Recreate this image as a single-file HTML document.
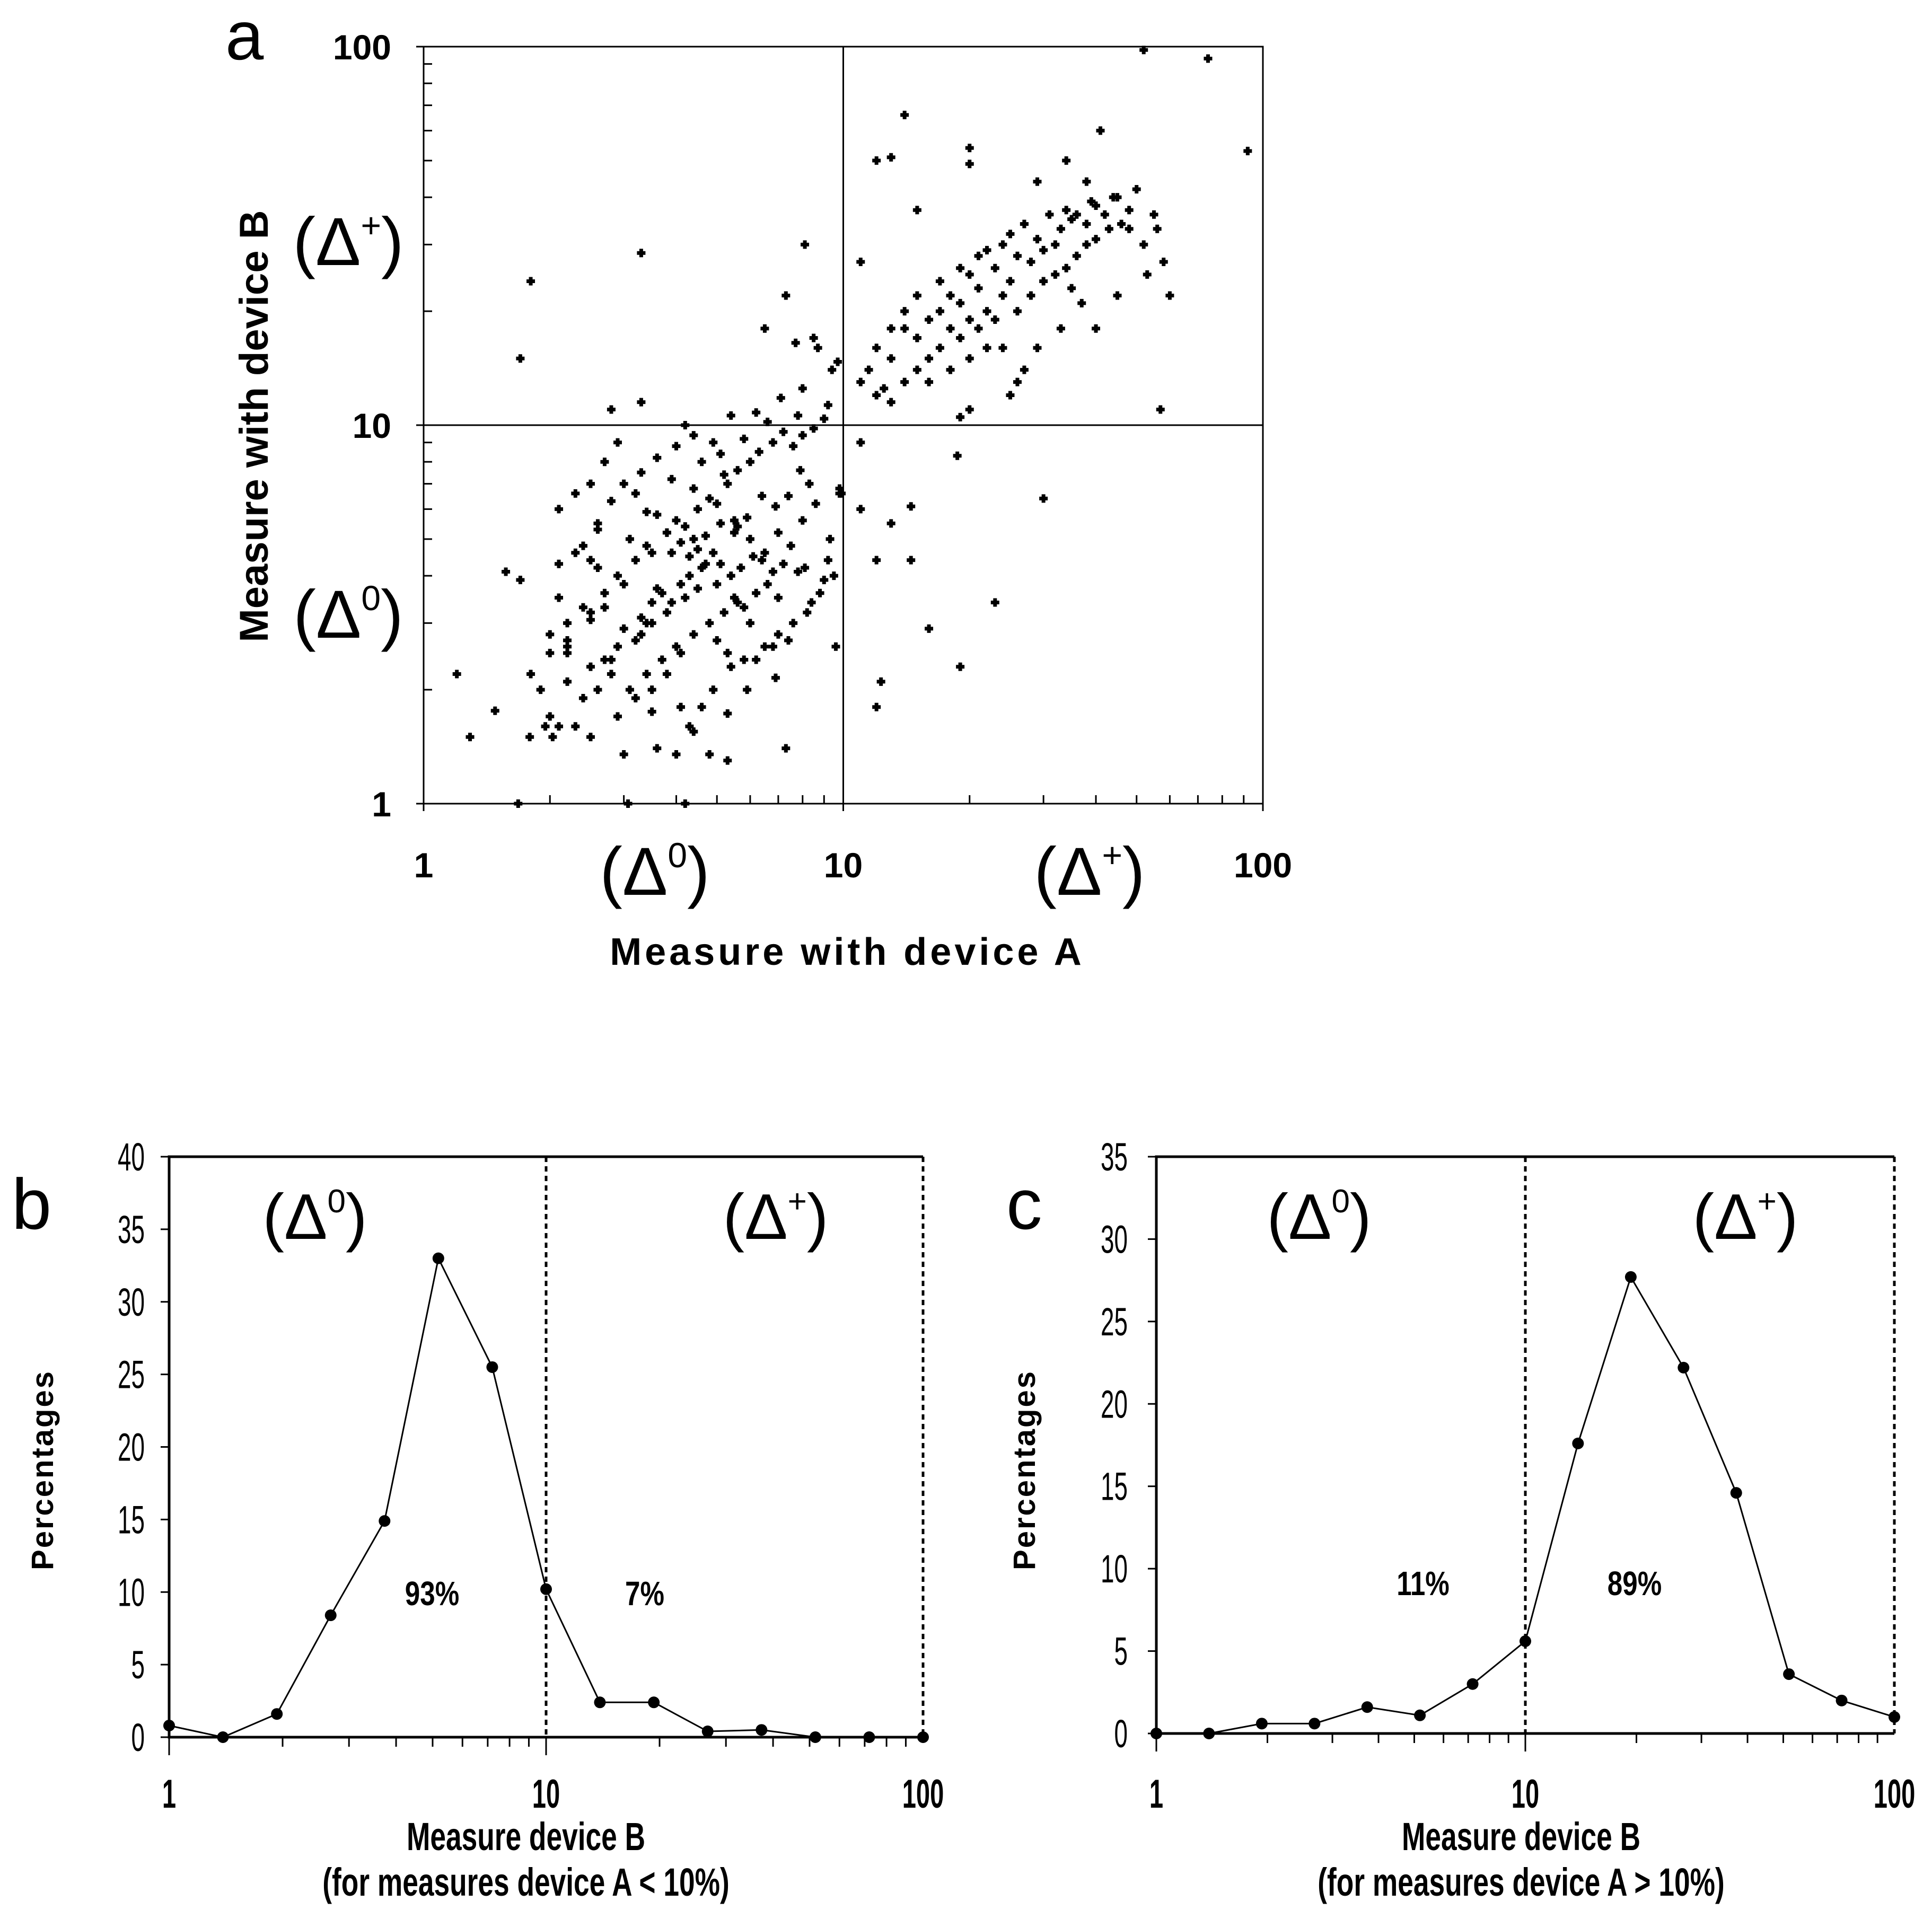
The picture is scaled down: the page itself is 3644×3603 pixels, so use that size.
<!DOCTYPE html>
<html><head><meta charset="utf-8"><style>
html,body{margin:0;padding:0;background:#fff}
svg{display:block}
text{font-family:"Liberation Sans",sans-serif;fill:#000}
</style></head><body>
<svg id="fig" width="3644" height="3603" viewBox="0 0 3644 3603" xmlns="http://www.w3.org/2000/svg">
<rect width="3644" height="3603" fill="#fff"/>
<g id="pa"></g>
<g id="pb"></g>
<g id="pc"></g>
</svg>
<script>
// Panel a scatter data: device A and device B values
const scatterA = [52,74,92,41,14,12,13,20,20,34,38,29,15,8.1,3.3,1.8,1.7,11,
13,12,14,15,13,16,17,15,14,16,18,17,19,20,18,21,22,24,20,23,25,26,24,28,30,27,29,32,35,33,36,38,40,42,45,48,50,44,39,34,31,27,25,22,21,19,17,15,14,13,12,11.5,11,12.5,16,18,20,22,24,19,21,23,26,28,30,32,34,36,38,40,43,46,52,55,56,58,53,45,37,33,29,27,25,20,19,15,35,40,48,60,57,26,30,
11,14.5,12,14.5,23,16,19,12,12.3,9.8,11,18.7,13,
1.2,1.29,1.48,1.79,2.03,2.5,1.57,1.68,3.07,4.2,5.3,5.9,6.9,8.1,2.2,
2,2.2,2.4,2.1,2.5,2.7,2.9,2.6,3,3.2,3.4,3.1,3.5,3.8,4,3.6,4.2,4.5,4.8,4.4,5,5.3,5.6,5.2,6,6.3,6.8,7.2,7.6,8,8.5,9,6.6,5.4,4.2,3.3,2.8,2.9,2.7,2.5,2.3,2.1,2.6,2.8,3,3.3,3.6,4,4.4,4.9,5.5,6,6.5,7,7.5,8,8.6,9.2,9.5,8.8,8.2,7.6,7,6.5,6,5.6,5.2,4.8,4.4,4,3.7,3.4,3.1,2.8,2.6,2.4,2.2,2,2.3,2.5,2.9,3.2,3.5,3.8,4.1,4.3,4.6,4.9,5.4,5.8,6.2,6.8,7.3,4,4.4,3.6,4.8,5.3,3,2.8,2,1.8,1.9,1.7,2.1,2.3,2.5,2.7,3.3,3.5,3.7,3.9,4.1,4.3,4.6,4.9,5.1,5.4,5.7,6.1,6.4,6.8,7.2,7.8,3.9,4.1,4.3,4.5,4.7,3.6,3.4,3.2,3,2.9,3.3,3.5,3.8,4.2,4.5,5,5.5,5.8,6.2,6.6,7,7.4,8.4,9,9.6,9.3,9.8,9.9,8.3,7.9,7.4,6.9,6.4,5.9,5.5,5.1,4.7,4.4,2.6,2.4,2.2,2.7,2.5,2.2,1.95,2.1,3.5,4.1,5,5.3,5.6,3.4,3.8,3.2,3.9,4.6,5.1,5.8,6.2,7.1,8,9.4,9.7,8.7,8.5,7.7,7.3,6.5,7.8,9.2,9.6];
const scatterB = [98,93,53,60,66,50,51,54,49,50,44,44,37,30,28.5,24,15,27,
11.5,12,13,14,15,15,16,17,18,19,18,20,21,19,22,23,20,22,25,26,24,28,30,27,29,34,31,30,35,33,36,34,38,36,40,37,42,40,39,37,36,34,32,29,28,26,24,22,20,18,16,14,13,12.5,13,14,15,16,16,17,18,19,20,22,24,25,26,28,30,31,33,34,30,36,33,27,25,22,21,18,16,14,12,11,10.5,17,23,18,33,22,11,13,
6.4,6,4.4,4.4,6.1,3.4,2.9,2.3,1.8,2.1,6.6,9,8.3,
5.5,2.2,1.5,1.76,1.5,1.5,3.06,4.1,1,1,1,1.73,2,2.15,4.2,
2.5,2.8,3,3.3,3.5,3.2,3.6,4,4.2,3.8,4.4,4.8,5,4.6,5.2,5.6,5.8,5.4,6,6.4,6.8,6.2,7,7.6,7.4,8,8.5,9,9.6,8.8,9.4,9.8,10.4,10.2,10.6,10,11.5,11,9,8,7,6.6,6,5.5,6.3,7,7.5,8.2,8.8,9.4,9,5.6,5,4.6,5.2,4.8,5.6,6.2,4.4,4,3.6,3.2,3,2.8,2.6,3,3.4,3.2,3,2.8,2.6,2.4,2.2,2,2.2,2,1.9,2.1,1.7,1.6,1.5,1.7,1.9,2,2.2,1.8,1.6,1.8,2,2.3,2.4,2.4,2.6,1.4,1.35,1.55,1.4,1.35,1.3,1.35,2.4,2.5,2.2,2,3.9,4.3,4.6,4.4,3.3,3.1,3.4,3.6,3.4,3.8,4,4.2,4.6,4.3,4,4.2,4.5,4.4,4.1,4.3,4.1,4.6,4.9,4.5,4.7,4.3,3.7,3,2.7,2.9,2.6,2.8,3,3.2,3.5,3.7,3.8,3.5,3.3,3.6,3.8,3.5,2.7,3.4,3.9,2.6,5,6.8,6.6,7,7.6,6.5,6.1,6.5,5.7,5.2,5.5,5.1,5,5.3,4.8,2.6,2.4,2.3,2.7,1.6,1.6,1.75,2.5,2.7,2.5,5.4,5.9,5.2,6.6,7.2,8,8.4,9.2,10.8,11.8,12.5,14,14.7,16,17,16.5,22,18,10.6,11.3];
// Panel b
const binsB = [1,1.389,1.931,2.683,3.728,5.179,7.197,10,13.89,19.31,26.83,37.28,51.79,71.97,100];
const pctB = [0.8,0,1.6,8.4,14.9,33,25.5,10.2,2.4,2.4,0.4,0.5,0,0,0];
const yTicksB = [0,5,10,15,20,25,30,35,40];
// Panel c
const binsC = [1,1.389,1.931,2.683,3.728,5.179,7.197,10,13.89,19.31,26.83,37.28,51.79,71.97,100];
const pctC = [0,0,0.6,0.6,1.6,1.1,3,5.6,17.6,27.7,22.2,14.6,3.6,2,1];
const yTicksC = [0,5,10,15,20,25,30,35];
const xTickLabels = ["1","10","100"];
const xTickVals = [1,10,100];

const NS="http://www.w3.org/2000/svg";
function mk(parent,tag,attrs,txt){const e=document.createElementNS(NS,tag);for(const k in attrs)e.setAttribute(k,attrs[k]);if(txt!==undefined)e.textContent=txt;parent.appendChild(e);return e;}
function logScale(v0,v1,p0,p1){return v=>p0+(Math.log10(v)-Math.log10(v0))/(Math.log10(v1)-Math.log10(v0))*(p1-p0);}
function linScale(v0,v1,p0,p1){return v=>p0+(v-v0)/(v1-v0)*(p1-p0);}

// ===== Panel a =====
(function(){
const g=document.getElementById('pa');
const X0=799,X1=2382,Y0=88,Y1=1516;
const sx=logScale(1,100,X0,X1), sy=logScale(1,100,Y1,Y0);
let t=mk(g,'text',{x:425,y:112,'font-size':130});t.textContent='a';


const f=mk(g,'rect',{x:X0,y:Y0,width:X1-X0,height:Y1-Y0,fill:'none',stroke:'#000','stroke-width':3});


const vl=mk(g,'line',{x1:sx(10),x2:sx(10),y1:Y0,y2:Y1,stroke:'#000','stroke-width':3});


const hl=mk(g,'line',{x1:X0,x2:X1,y1:sy(10),y2:sy(10),stroke:'#000','stroke-width':3});


for(let d=1;d<100;d*=10){for(let m=2;m<=9;m++){const v=d*m;
 mk(g,'line',{x1:sx(v),x2:sx(v),y1:Y1,y2:Y1-16,stroke:'#000','stroke-width':3});
 mk(g,'line',{x1:X0,x2:X0+16,y1:sy(v),y2:sy(v),stroke:'#000','stroke-width':3});}}
xTickVals.forEach((v,i)=>{
 mk(g,'line',{x1:sx(v),x2:sx(v),y1:Y1,y2:Y1+14,stroke:'#000','stroke-width':3});
 mk(g,'line',{x1:X0-14,x2:X0,y1:sy(v),y2:sy(v),stroke:'#000','stroke-width':3});
 const a=mk(g,'text',{x:sx(v),y:1655,'font-size':66,'font-weight':'bold','text-anchor':'middle'},xTickLabels[i]);
 
 
 const b=mk(g,'text',{x:738,y:sy(v)+24,'font-size':66,'font-weight':'bold','text-anchor':'end'},xTickLabels[i]);
 
 
});
for(let i=0;i<scatterA.length;i++){
 const p=mk(g,'path',{d:`M${sx(scatterA[i])-8},${sy(scatterB[i])}h16M${sx(scatterA[i])},${sy(scatterB[i])-8}v16`,stroke:'#000','stroke-width':7});
 
 
}
})();
</script>
<script>
(function(){
const g=document.getElementById('pa');
g.insertAdjacentHTML('beforeend',`
<text x="657" y="500" font-size="128" text-anchor="middle">(Δ<tspan font-size="66" dy="-52">+</tspan><tspan dy="52">)</tspan></text>
<text x="657" y="1203" font-size="128" text-anchor="middle">(Δ<tspan font-size="66" dy="-52">0</tspan><tspan dy="52">)</tspan></text>
<text x="1235" y="1688" font-size="128" text-anchor="middle">(Δ<tspan font-size="66" dy="-52">0</tspan><tspan dy="52">)</tspan></text>
<text x="2055" y="1688" font-size="128" text-anchor="middle">(Δ<tspan font-size="66" dy="-52">+</tspan><tspan dy="52">)</tspan></text>
<text x="1598" y="1820" font-size="72" font-weight="bold" letter-spacing="6" text-anchor="middle">Measure with device A</text>
<text transform="translate(505,804) rotate(-90)" font-size="76" font-weight="bold" text-anchor="middle">Measure with device B</text>`);
})();

function linePanel(id,X0,X1,Y0,Y1,ymax,ticks,bins,pct,letter,letterX,tickRight,pctX,d0x,dpx,l1,l1x,l2,l2x,lY,sub){
const g=document.getElementById(id);
const sx=logScale(1,100,X0,X1), sy=linScale(0,ymax,Y1,Y0);
const ax=mk(g,'path',{d:`M${X1},${Y0}H${X0}V${Y1}H${X1}`,fill:'none',stroke:'#000','stroke-width':5});


const dl=mk(g,'line',{x1:sx(10),x2:sx(10),y1:Y0,y2:Y1,stroke:'#000','stroke-width':5,'stroke-dasharray':'10 8'});


const rl=mk(g,'line',{x1:X1,x2:X1,y1:Y0,y2:Y1,stroke:'#000','stroke-width':5,'stroke-dasharray':'10 8'});


ticks.forEach(v=>{
 mk(g,'line',{x1:X0-16,x2:X0,y1:sy(v),y2:sy(v),stroke:'#000','stroke-width':3});
 const t=mk(g,'text',{transform:`translate(${tickRight},${sy(v)+26}) scale(0.62,1)`,'font-size':74,'text-anchor':'end'},String(v));
 
 
});
for(let d=1;d<100;d*=10){for(let m=1;m<=9;m++){const v=d*m;
 mk(g,'line',{x1:sx(v),x2:sx(v),y1:Y1,y2:Y1+(m==1?34:18),stroke:'#000','stroke-width':3});}}
xTickVals.forEach((v,i)=>{
 const t=mk(g,'text',{transform:`translate(${sx(v)},${3410}) scale(0.62,1)`,'font-size':76,'font-weight':'bold','text-anchor':'middle'},xTickLabels[i]);
 
 
});
let d='';bins.forEach((b,i)=>{d+=(i?'L':'M')+sx(b)+','+sy(pct[i]);});
const ln=mk(g,'path',{d:d,fill:'none',stroke:'#000','stroke-width':3});


bins.forEach((b,i)=>{
 const c=mk(g,'circle',{cx:sx(b),cy:sy(pct[i]),r:11,fill:'#000'});
 
 
});
const cx=(X0+X1)/2+ (id=='pb'?-38:-8);
g.insertAdjacentHTML('beforeend',`
<text x="${letterX}" y="2318" font-size="135">${letter}</text>
<text transform="translate(${pctX},2773) rotate(-90)" font-size="58" font-weight="bold" letter-spacing="3" text-anchor="middle">Percentages</text>
<text x="${d0x}" y="2337" font-size="122" text-anchor="middle">(Δ<tspan font-size="62" dy="-50">0</tspan><tspan dy="50">)</tspan></text>
<text x="${dpx}" y="2337" font-size="122" text-anchor="middle">(Δ<tspan font-size="62" dy="-50">+</tspan><tspan dy="50">)</tspan></text>
<text transform="translate(${l1x},${lY}) scale(0.8,1)" font-size="64" font-weight="bold" text-anchor="middle">${l1}</text>
<text transform="translate(${l2x},${lY}) scale(0.8,1)" font-size="64" font-weight="bold" text-anchor="middle">${l2}</text>
<text transform="translate(${cx},3490) scale(0.72,1)" font-size="74" font-weight="bold" text-anchor="middle">Measure device B</text>
<text transform="translate(${cx},3576) scale(0.72,1)" font-size="74" font-weight="bold" text-anchor="middle">${sub}</text>`);
}
linePanel('pb',319,1741,2182,3277,40,yTicksB,binsB,pctB,'b',22,273,100,594,1463,'93%',815,'7%',1216,3028,'(for measures device A &lt; 10%)');
linePanel('pc',2181,3573,2182,3270,35,yTicksC,binsC,pctC,'c',1898,2127,1952,2488,3292,'11%',2684,'89%',3083,3009,'(for measures device A &gt; 10%)');
</script>
</body></html>
